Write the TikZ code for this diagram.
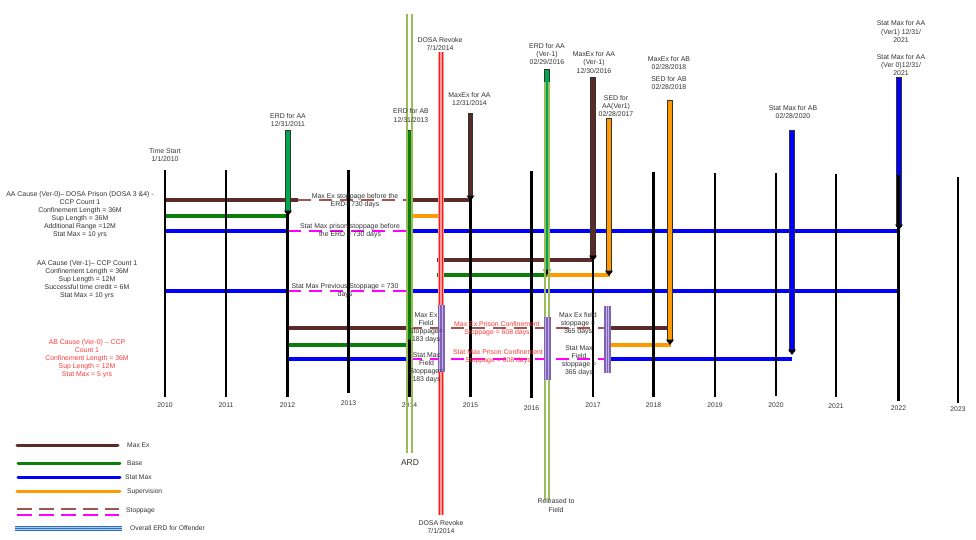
\documentclass[tikz,border=0pt]{standalone}
\usepackage{fontspec}
\setmainfont{Liberation Sans}
\usetikzlibrary{arrows.meta}
\definecolor{txt}{HTML}{333333}
\definecolor{maxex}{HTML}{5C2A28}
\definecolor{maxexd}{HTML}{A4544F}
\definecolor{base}{HTML}{0A800A}
\definecolor{erdg}{HTML}{00A550}
\definecolor{statmax}{HTML}{0000FF}
\definecolor{sup}{HTML}{FF9900}
\definecolor{stopm}{HTML}{FF00FF}
\definecolor{ard}{HTML}{9BBB59}
\definecolor{dosa}{HTML}{FF1A1A}
\definecolor{dosal}{HTML}{FF9A9A}
\definecolor{purp}{HTML}{8062B4}
\definecolor{purpl}{HTML}{C4B3E3}
\definecolor{redtxt}{HTML}{FF3B3B}
\definecolor{erdblue}{HTML}{2F6FBF}
\definecolor{erdbluel}{HTML}{A8CBEB}
\tikzset{
  hline/.style={line width=4pt},
  yearl/.style={line width=2.8pt, black},
  lbl/.style={font=\fontsize{6.9}{8.1}\selectfont, text=txt, align=center, inner sep=0pt},
  rlbl/.style={lbl, text=redtxt},
  yl/.style={font=\fontsize{6.8}{8}\selectfont, text=txt, inner sep=0pt},
  legl/.style={font=\fontsize{6.7}{8}\selectfont, text=txt, inner sep=0pt, anchor=west},
  dashb/.style={line width=2.2pt, maxexd, dash pattern=on 13pt off 8pt},
  dashm/.style={line width=2pt, stopm, dash pattern=on 13pt off 8pt},
  legline/.style={line width=3pt, line cap=round},
  ardline/.style={ard, line width=1.7pt},
}
\newcommand{\vArrow}[4]{%
  \draw[line width=5.2pt, black!80] (#2,#3) -- (#2,#4-3);
  \draw[line width=3.8pt, #1] (#2,#3+0.7) -- (#2,#4-4);
  \fill[black] (#2-4,#4-5.5) -- (#2+4,#4-5.5) -- (#2,#4) -- cycle;
}
\newcommand{\pBand}[3]{%
  \fill[purp] (#1-3.5,#2) rectangle (#1+3.5,#3);
  \draw[purpl, line width=0.8pt] (#1-1.3,#2) -- (#1-1.3,#3);
  \draw[purpl, line width=0.8pt] (#1+1.3,#2) -- (#1+1.3,#3);
}
\begin{document}
\begin{tikzpicture}[x=1pt,y=-1pt]
\useasboundingbox (0,0) rectangle (976,539);
\fill[white] (0,0) rectangle (976,539);

% ---------- Row 1 : AA Ver-0
\draw[hline, maxex] (165,200) -- (298,200);
\draw[dashb] (298,200) -- (409,200);
\draw[hline, maxex] (409,200) -- (471,200);
\draw[hline, base] (165,216) -- (288,216);
\draw[hline, sup] (409,216) -- (441,216);
\draw[hline, statmax] (165,231) -- (288,231);
\draw[dashm] (288,231) -- (409,231);
\draw[hline, statmax] (409,231) -- (899,231);
% ---------- Row 2 : AA Ver-1
\draw[hline, maxex] (437,260) -- (593,260);
\draw[hline, base] (437,275) -- (547,275);
\draw[hline, sup] (547,275) -- (610,275);
\draw[hline, statmax] (165,291) -- (288,291);
\draw[dashm] (288,291) -- (409,291);
\draw[hline, statmax] (409,291) -- (899,291);
% ---------- Row 3 : AB
\draw[hline, maxex] (288,328) -- (409,328);
\draw[dashb] (409,328) -- (607,328);
\draw[hline, maxex] (607,328) -- (671,328);
\draw[hline, base] (288,345) -- (409,345);
\draw[hline, sup] (607,345) -- (671,345);
\draw[hline, statmax] (288,359) -- (409,359);
\draw[dashm] (409,359) -- (607,359);
\draw[hline, statmax] (607,359) -- (792,359);

% Stat Max for AA (2021) arrow, below the year line
\vArrow{statmax}{899}{77}{230}

% ---------- year lines
\foreach \yx/\yt/\yb/\ly/\yr in {165/170/397/405/2010, 226/170/397/405/2011,
  287.5/170/397/405/2012, 348.5/170/393/403/2013, 409.5/170/397/405/2014,
  470.5/170/397/405/2015, 531.5/171/398/408/2016, 593/170/397/405/2017,
  653.5/172/397/405/2018, 715/173/397/405/2019, 776/173/396/405/2020,
  836/174/397/406/2021, 898.5/175/401/408/2022, 958/177/403/409/2023}{
  \draw[yearl] (\yx,\yt) -- (\yx,\yb);
  \node[yl] (y\yr) at (\yx,\ly) {\yr};
}

% ---------- vertical event arrows
\vArrow{erdg}{288}{130}{216}
\vArrow{base}{409.5}{130}{345}
\vArrow{maxex}{470.5}{113}{201}
\vArrow{erdg}{547}{69}{275}
\vArrow{maxex}{593}{77}{261}
\vArrow{sup}{609}{118}{276}
\vArrow{sup}{670}{100}{345}
\vArrow{statmax}{792}{130}{355}

% ---------- ARD and Released to Field double lines
\draw[ardline] (407.2,14) -- (407.2,453);
\draw[ardline] (411.8,14) -- (411.8,453);
\draw[ardline] (544.7,82) -- (544.7,500);
\draw[ardline] (549.3,82) -- (549.3,500);

% ---------- DOSA revoke band
\fill[dosal] (437.8,52) rectangle (444.2,515);
\draw[dosa, line width=1.4pt] (439.6,52) -- (439.6,515);
\draw[dosa, line width=1.4pt] (442.4,52) -- (442.4,515);

% ---------- purple field stoppage bands
\pBand{441}{305}{372}
\pBand{547}{317}{380}
\pBand{607.5}{306}{373}

% ---------- top labels
\node[lbl] (tstart) at (165,155) {Time Start\\1/1/2010};
\node[lbl] (erdaa) at (288,120) {ERD for AA\\12/31/2011};
\node[lbl] (erdab) at (411,115.5) {ERD for AB\\12/31/2013};
\node[lbl] (dosatop) at (440,43.7) {DOSA Revoke\\7/1/2014};
\node[lbl] (maxexaa) at (469.5,98.7) {MaxEx for AA\\12/31/2014};
\node[lbl] (erdaa1) at (547,54) {ERD for AA\\(Ver-1)\\02/29/2016};
\node[lbl] (maxexaa1) at (594,62.5) {MaxEx for AA\\(Ver-1)\\12/30/2016};
\node[lbl] (sedaa1) at (616,106) {SED for\\AA(Ver1)\\02/28/2017};
\node[lbl] (maxexab) at (669,63) {MaxEx for AB\\02/28/2018};
\node[lbl] (sedab) at (669,83) {SED for AB\\02/28/2018};
\node[lbl] (smab) at (793,112.3) {Stat Max for AB\\02/28/2020};
\node[lbl] (smaa1) at (901,31.6) {Stat Max for AA\\(Ver1) 12/31/\\2021};
\node[lbl] (smaa0) at (901,65) {Stat Max for AA\\(Ver 0)12/31/\\2021};
\node[lbl] (dosabot) at (441,527) {DOSA Revoke\\7/1/2014};
\node[lbl, font=\fontsize{8.5}{10}\selectfont] (ardl) at (410,463) {ARD};
\node[lbl] (rel) at (556,505.5) {Released to\\Field};

% ---------- left cause descriptions
\node[lbl] (c1) at (80,214.5) {AA Cause (Ver-0)– DOSA Prison (DOSA 3 \&4) -\\CCP Count 1\\Confinement Length = 36M\\Sup Length = 36M\\Additional Range =12M\\Stat Max = 10 yrs};
\node[lbl] (c2) at (87,280) {AA Cause (Ver-1)– CCP Count 1\\Confinement Length = 36M\\Sup Length = 12M\\Successful time credit = 6M\\Stat Max = 10 yrs};
\node[rlbl] (c3) at (87,359) {AB Cause (Ver-0) – CCP\\Count 1\\Confinement Length = 36M\\Sup Length = 12M\\Stat Max = 5 yrs};

% ---------- stoppage labels
\node[lbl] (s1) at (355,200.7) {Max Ex stoppage before the\\ERD= 730 days};
\node[lbl] (s2) at (350,230.7) {Stat Max prison stoppage before\\the ERD = 730 days};
\node[lbl] (s3) at (345,291) {Stat Max Previous Stoppage = 730\\days};
\node[lbl] (s4) at (426,328) {Max Ex\\Field\\Stoppage=\\183 days};
\node[lbl] (s5) at (426.5,367.5) {Stat Max\\Field\\Stoppage=\\183 days};
\node[rlbl] (s6) at (497,329) {Max Ex Prison Confinement\\Stoppage = 608 days};
\node[rlbl] (s7) at (498,357) {Stat Max Prison Confinement\\Stoppage = 608 days};
\node[lbl] (s8) at (578,324) {Max Ex field\\stoppage =\\365 days};
\node[lbl] (s9) at (579,361) {Stat Max\\Field\\stoppage =\\365 days};

% ---------- legend
\draw[legline, maxex] (17,445.5) -- (118,445.5);
\draw[legline, base] (18,463) -- (120,463);
\draw[legline, statmax] (18,477) -- (120,477);
\draw[legline, sup] (17,491) -- (120,491);
\draw[line width=2pt, maxexd, dash pattern=on 14.5pt off 7.5pt] (17,508.7) -- (119,508.7);
\draw[line width=2pt, stopm, dash pattern=on 14.5pt off 7.5pt] (17,514.7) -- (119,514.7);
\fill[erdbluel] (15,526) rectangle (122,531);
\draw[erdblue, line width=0.9pt] (15,526.3) -- (122,526.3);
\draw[erdblue, line width=0.9pt] (15,528.5) -- (122,528.5);
\draw[erdblue, line width=0.9pt] (15,530.7) -- (122,530.7);
\node[legl] (lmax) at (127,445.5) {Max Ex};
\node[legl] (lbase) at (127,463.5) {Base};
\node[legl] (lstat) at (125,477) {Stat Max};
\node[legl] (lsup) at (127,491.5) {Supervision};
\node[legl] (lstop) at (126,511) {Stoppage};
\node[legl] (lerd) at (130,528.5) {Overall ERD for Offender};
\end{tikzpicture}
\end{document}
